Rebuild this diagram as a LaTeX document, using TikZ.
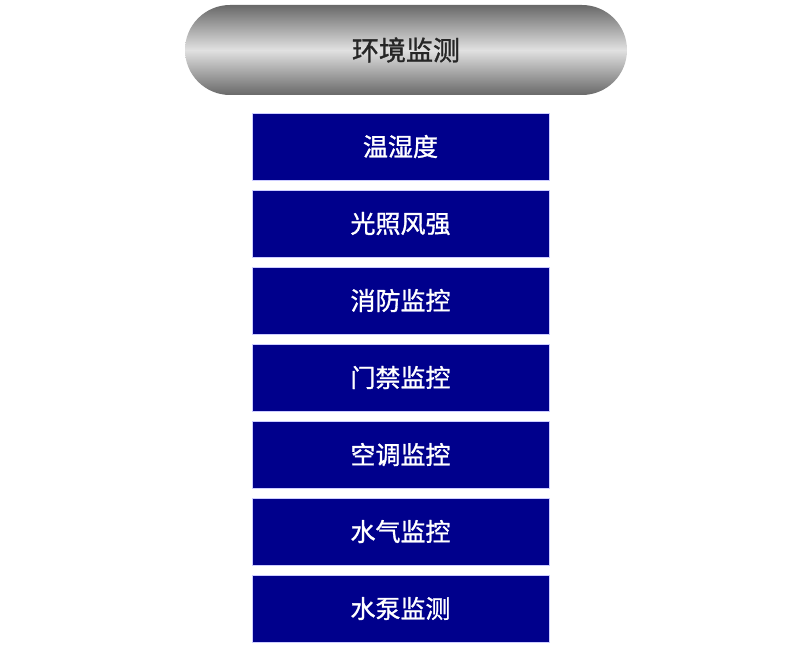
\documentclass[tikz,border=0pt]{standalone}
\usepackage{fontspec}
\newfontfamily\cjk{Noto Sans CJK SC}[FakeBold=1.2]
\usetikzlibrary{shapes.misc}
\definecolor{navy}{RGB}{0,0,140}
\definecolor{pilltop}{RGB}{105,105,105}
\definecolor{pillmid}{RGB}{225,225,225}
\definecolor{pillbot}{RGB}{105,105,105}
\tikzset{
  pill/.style={rounded rectangle, minimum width=442pt, minimum height=90pt, inner sep=0pt,
    top color=pilltop, bottom color=pillbot, middle color=pillmid,
    font=\cjk\fontsize{27}{30}\selectfont, text=black!85},
  itembox/.style={rectangle, draw=white!80!blue, line width=0.8pt, fill=navy,
    minimum width=297pt, minimum height=67pt, inner sep=0pt,
    font=\cjk\fontsize{25}{28}\selectfont, text=white}
}
\begin{document}
\begin{tikzpicture}[x=1pt,y=-1pt]
\useasboundingbox (0,0) rectangle (800,650);
\node[pill] (title) at (406,50) {环境监测};
\node[itembox] (b1) at (400.5,146.5) {温湿度};
\node[itembox] (b2) at (400.5,223.5) {光照风强};
\node[itembox] (b3) at (400.5,300.5) {消防监控};
\node[itembox] (b4) at (400.5,377.5) {门禁监控};
\node[itembox] (b5) at (400.5,454.5) {空调监控};
\node[itembox] (b6) at (400.5,531.5) {水气监控};
\node[itembox] (b7) at (400.5,608.5) {水泵监测};
\end{tikzpicture}
\end{document}
